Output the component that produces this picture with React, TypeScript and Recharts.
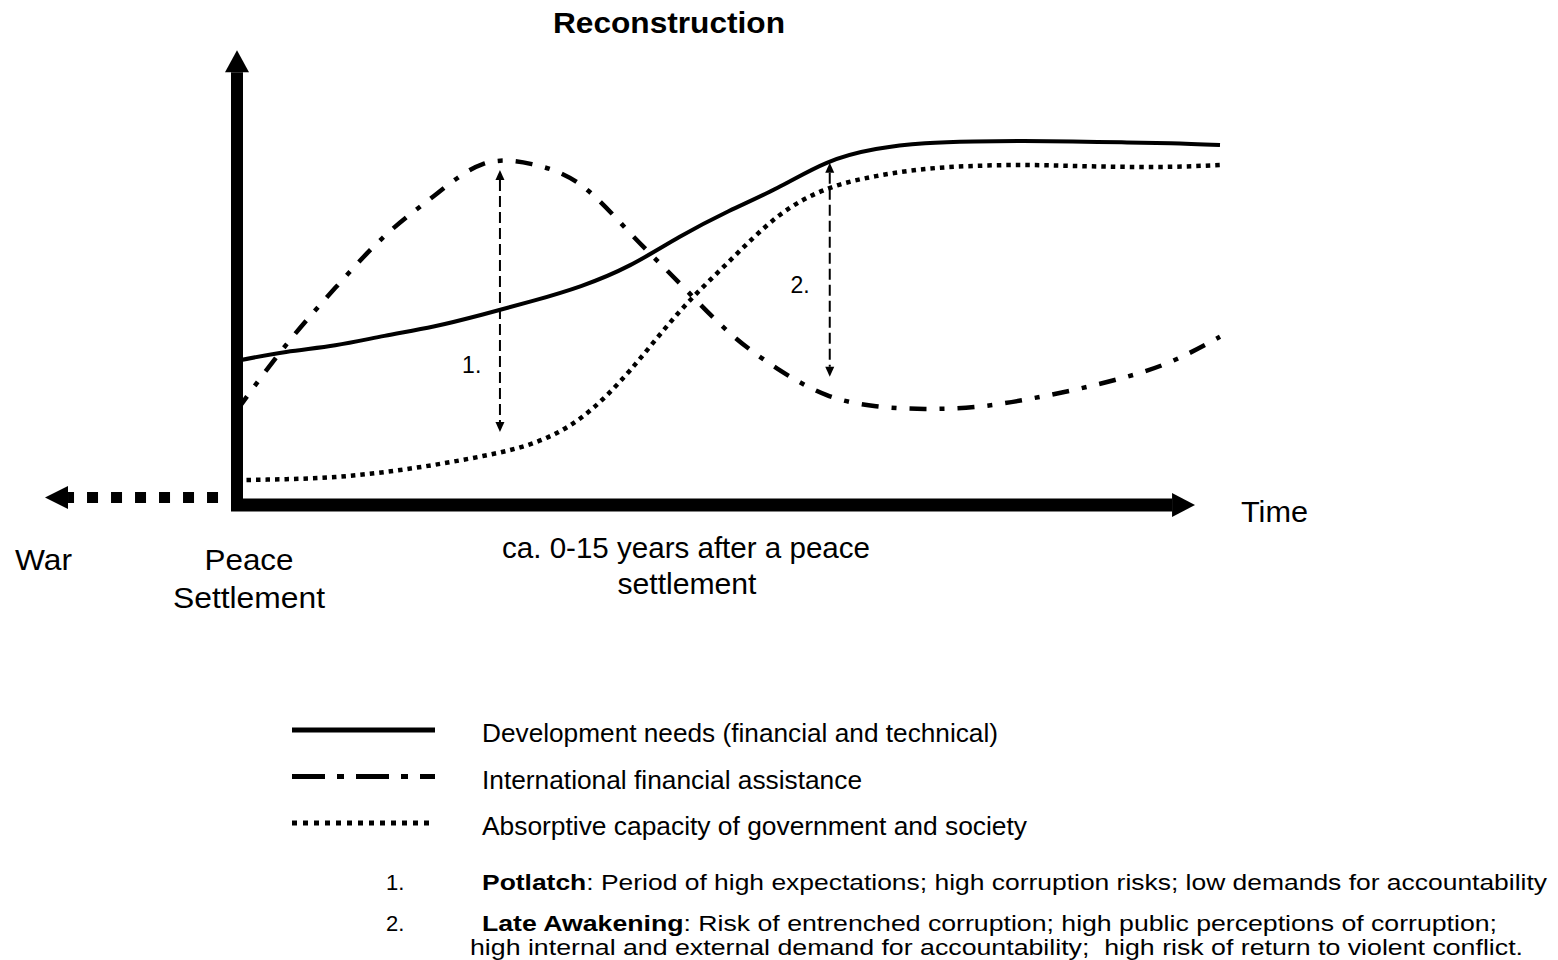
import React from 'react';
import { LineChart, Line, XAxis, YAxis, ReferenceLine, ReferenceDot, Legend } from 'recharts';

// ---- data (abstract units: time 0..100, level 0..100) ----
const timePoints = [0, 5, 10, 15, 20, 25, 30, 35, 40, 45, 50, 55, 60, 65, 70, 75, 80, 85, 90, 95, 100];
const developmentNeeds = [32.4, 34.4, 35.9, 38.0, 40.1, 42.8, 45.8, 49.2, 53.9, 60.2, 66.0, 71.3, 76.9, 80.0, 81.3, 81.7, 81.8, 81.7, 81.5, 81.3, 80.9];
const financialAssistance = [21.3, 36.0, 48.8, 60.4, 69.4, 76.6, 76.6, 71.9, 61.1, 49.9, 38.9, 30.6, 24.7, 22.2, 21.6, 22.0, 23.6, 25.8, 28.5, 32.2, 37.8];
const absorptiveCapacity = [5.6, 5.8, 6.3, 7.4, 9.0, 11.0, 13.8, 19.6, 30.3, 43.4, 54.6, 64.8, 71.0, 73.9, 75.5, 76.2, 76.4, 76.2, 76.0, 76.0, 76.4];

const seriesKeys = ['needs', 'assistance', 'capacity'];
const seriesNames = [
  'Development needs (financial and technical)',
  'International financial assistance',
  'Absorptive capacity of government and society',
];

// gap markers: time, top level, bottom level, label anchor
const gapMarkers = [
  { label: '1.', x: 26.75, top: 75.3, bottom: 16.4, labelX: 22.9, labelY: 29.7 },
  { label: '2.', x: 60.3, top: 76.9, bottom: 28.8, labelX: 56.3, labelY: 47.6 },
];

const chartData = timePoints.map((t, i) => ({
  t,
  needs: developmentNeeds[i],
  assistance: financialAssistance[i],
  capacity: absorptiveCapacity[i],
}));

const FONT = '"Liberation Sans", Arial, Helvetica, sans-serif';

const seriesStyle: Record<string, { dash?: string; width: number; legendDash?: string; legendWidth: number; textLen: number }> = {
  needs: { width: 4, legendWidth: 5, textLen: 516 },
  assistance: { dash: '17 13 5 13', width: 4.5, legendDash: '33 12 7 12', legendWidth: 5, textLen: 380 },
  capacity: { dash: '4.5 5', width: 4.5, legendDash: '5 6', legendWidth: 5, textLen: 545 },
};

function makeArrow(opts: { width: number; headLen: number; headHalf: number; dash?: string; back?: number; doubleHead?: boolean }) {
  return (p: any) => {
    const { x1, y1, x2, y2 } = p;
    const dx = x2 - x1;
    const dy = y2 - y1;
    const len = Math.sqrt(dx * dx + dy * dy) || 1;
    const ux = dx / len;
    const uy = dy / len;
    const nx = -uy;
    const ny = ux;
    const back = opts.back || 0;
    const sx = opts.doubleHead ? x1 + ux * opts.headLen : x1 - ux * back;
    const sy = opts.doubleHead ? y1 + uy * opts.headLen : y1 - uy * back;
    const ex = x2 - ux * opts.headLen;
    const ey = y2 - uy * opts.headLen;
    const head = (tx: number, ty: number, dirx: number, diry: number) => {
      const bx = tx - dirx * opts.headLen;
      const by = ty - diry * opts.headLen;
      return `${tx},${ty} ${bx + nx * opts.headHalf},${by + ny * opts.headHalf} ${bx - nx * opts.headHalf},${by - ny * opts.headHalf}`;
    };
    return (
      <g>
        <line x1={sx} y1={sy} x2={ex} y2={ey} stroke="#000" strokeWidth={opts.width} strokeDasharray={opts.dash} />
        <polygon points={head(x2, y2, ux, uy)} fill="#000" />
        {opts.doubleHead && <polygon points={head(x1, y1, -ux, -uy)} fill="#000" />}
      </g>
    );
  };
}

const yAxisArrow = makeArrow({ width: 12, headLen: 22, headHalf: 12, back: 6 });
const xAxisArrow = makeArrow({ width: 13, headLen: 23, headHalf: 12, back: 6 });
const warArrow = makeArrow({ width: 11, headLen: 23, headHalf: 11.5, dash: '11 13' });
const gapArrow = makeArrow({ width: 2, headLen: 10, headHalf: 4.5, dash: '11 5', doubleHead: true });

const renderLegend = (props: any) => {
  const payload = [...(props.payload || [])].sort(
    (a: any, b: any) => seriesKeys.indexOf(a.dataKey) - seriesKeys.indexOf(b.dataKey)
  );
  return (
    <svg width={1100} height={140} style={{ display: 'block' }}>
      {payload.map((entry: any, i: number) => {
        const st = seriesStyle[entry.dataKey];
        const cy = 20 + i * 46.5;
        return (
          <g key={i}>
            <line x1={12} y1={cy} x2={155} y2={cy} stroke="#000" strokeWidth={st.legendWidth} strokeDasharray={st.legendDash} />
            <text x={202} y={cy + 12} fontFamily={FONT} fontSize={25} fill="#000" textLength={st.textLen} lengthAdjust="spacingAndGlyphs">
              {entry.value}
            </text>
          </g>
        );
      })}
    </svg>
  );
};

const T = (props: any) => (
  <text fontFamily={FONT} fill="#000" lengthAdjust="spacingAndGlyphs" {...props} />
);

export default function App() {
  return (
    <div style={{ position: 'absolute', left: 0, top: 0, width: 1558, height: 960, background: '#fff' }}>
      <LineChart
        width={1558}
        height={960}
        data={chartData}
        margin={{ top: 60, right: 338, bottom: 455, left: 237 }}
      >
        <XAxis dataKey="t" type="number" domain={[0, 100]} hide />
        <YAxis type="number" domain={[0, 100]} hide />
        <Line dataKey="needs" name={seriesNames[0]} type="natural" stroke="#000" strokeWidth={seriesStyle.needs.width} dot={false} isAnimationActive={false} />
        <Line dataKey="assistance" name={seriesNames[1]} type="natural" stroke="#000" strokeWidth={seriesStyle.assistance.width} strokeDasharray={seriesStyle.assistance.dash} dot={false} isAnimationActive={false} />
        <Line dataKey="capacity" name={seriesNames[2]} type="natural" stroke="#000" strokeWidth={seriesStyle.capacity.width} strokeDasharray={seriesStyle.capacity.dash} dot={false} isAnimationActive={false} />

        <ReferenceLine segment={[{ x: 0, y: 0 }, { x: 0, y: 102.2 }]} ifOverflow="visible" shape={yAxisArrow} />
        <ReferenceLine segment={[{ x: 0, y: 0 }, { x: 97.46, y: 0 }]} ifOverflow="visible" shape={xAxisArrow} />
        <ReferenceLine segment={[{ x: -1.93, y: 1.69 }, { x: -19.53, y: 1.69 }]} ifOverflow="visible" shape={warArrow} />

        {gapMarkers.map((g) => (
          <ReferenceLine key={'a' + g.label} segment={[{ x: g.x, y: g.top }, { x: g.x, y: g.bottom }]} ifOverflow="visible" shape={gapArrow} />
        ))}
        {gapMarkers.map((g) => (
          <ReferenceDot
            key={'l' + g.label}
            x={g.labelX}
            y={g.labelY}
            r={0}
            ifOverflow="visible"
            shape={(p: any) => (
              <text x={p.cx} y={p.cy} fontFamily={FONT} fontSize={23} fill="#000">{g.label}</text>
            )}
          />
        ))}

        <Legend
          layout="horizontal"
          verticalAlign="middle"
          align="center"
          content={renderLegend}
          wrapperStyle={{ left: 280, top: 710, width: 1100, height: 140 }}
        />

        <T x={669} y={33} textAnchor="middle" fontSize={30} fontWeight="bold" textLength={232}>Reconstruction</T>
        <T x={1241} y={522} fontSize={29} textLength={67}>Time</T>
        <T x={15} y={570} fontSize={29} textLength={57}>War</T>
        <T x={249} y={570} textAnchor="middle" fontSize={29} textLength={89}>Peace</T>
        <T x={249} y={608} textAnchor="middle" fontSize={29} textLength={152}>Settlement</T>
        <T x={686} y={558} textAnchor="middle" fontSize={29} textLength={368}>ca. 0-15 years after a peace</T>
        <T x={687} y={594} textAnchor="middle" fontSize={29} textLength={139}>settlement</T>

        <T x={386} y={890} fontSize={22}>1.</T>
        <T x={482} y={890} fontSize={22} textLength={1065}>
          <tspan fontWeight="bold">Potlatch</tspan>: Period of high expectations; high corruption risks; low demands for accountability
        </T>
        <T x={386} y={931} fontSize={22}>2.</T>
        <T x={482} y={931} fontSize={22} textLength={1015}>
          <tspan fontWeight="bold">Late Awakening</tspan>: Risk of entrenched corruption; high public perceptions of corruption;
        </T>
        <T x={470} y={955} fontSize={22} textLength={1053} style={{ whiteSpace: 'pre' }}>
          {'high internal and external demand for accountability;  high risk of return to violent conflict.'}
        </T>
      </LineChart>
    </div>
  );
}
